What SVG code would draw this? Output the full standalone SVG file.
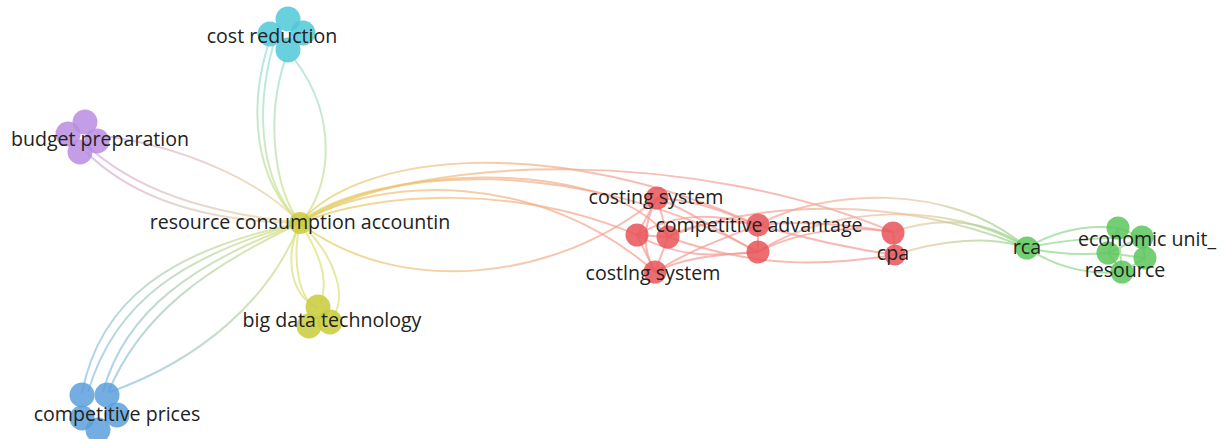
<svg xmlns="http://www.w3.org/2000/svg" width="1224" height="439" viewBox="0 0 1224 439">
<defs>
<linearGradient id="gCost" gradientUnits="userSpaceOnUse" x1="0" y1="40" x2="0" y2="223"><stop offset="0" stop-color="#8fdde6"/><stop offset="1" stop-color="#d6e07c"/></linearGradient>
<linearGradient id="gBud" gradientUnits="userSpaceOnUse" x1="90" y1="140" x2="300" y2="223"><stop offset="0" stop-color="#d6a8e2"/><stop offset="1" stop-color="#e6dc98"/></linearGradient>
<linearGradient id="gComp" gradientUnits="userSpaceOnUse" x1="90" y1="395" x2="300" y2="223"><stop offset="0" stop-color="#86bde8"/><stop offset="1" stop-color="#d8e07c"/></linearGradient>
<linearGradient id="gRed" gradientUnits="userSpaceOnUse" x1="300" y1="0" x2="640" y2="0"><stop offset="0" stop-color="#dcd25a"/><stop offset="0.3" stop-color="#f0c27a"/><stop offset="1" stop-color="#f4a094"/></linearGradient>
<linearGradient id="gRca" gradientUnits="userSpaceOnUse" x1="760" y1="0" x2="1027" y2="0"><stop offset="0" stop-color="#f4a094"/><stop offset="0.6" stop-color="#e6c8a0"/><stop offset="1" stop-color="#8ed68a"/></linearGradient>
<style>
.e{fill:none;stroke-width:2;stroke-opacity:0.7}
.ec{stroke:url(#gCost)}
.eb{stroke:url(#gBud)}
.ep{stroke:url(#gComp)}
.ey{stroke:#dcdf7a}
.er{stroke:url(#gRed)}
.erd{stroke:#f39b94}
.erc{stroke:url(#gRca)}
.eg{stroke:#8fd88a}
.n{stroke:none;fill-opacity:0.85}
.cy{fill:#4fc8d8}
.pu{fill:#b98ce0}
.ye{fill:#c9cb3a}
.bl{fill:#5b9fdc}
.re{fill:#e85458}
.gr{fill:#5cc55c}
text{font-family:"Open Sans","Liberation Sans",sans-serif;font-size:19.6px;fill:#222;text-anchor:middle}
</style>
</defs>
<g id="connectors">
<path class="e ec" d="M268,45 C248,110 255,180 300,223"/>
<path class="e ec" d="M273,46 C254,115 262,185 300,223"/>
<path class="e ec" d="M285,60 C265,120 275,190 300,223"/>
<path class="e ec" d="M295,60 C340,120 330,190 301,222"/>
<path class="e eb" d="M97,135 C180,145 260,180 300,223"/>
<path class="e eb" d="M92,150 C150,200 230,215 300,223"/>
<path class="e eb" d="M86,152 C140,205 220,222 300,223"/>
<path class="e ey" d="M300,223 C285,255 290,290 312,305"/>
<path class="e ey" d="M300,223 C292,260 298,300 318,308"/>
<path class="e ey" d="M300,223 C335,255 350,300 330,320"/>
<path class="e ey" d="M300,223 C318,250 330,280 320,303"/>
<path class="e ep" d="M82,393 C100,300 170,250 300,223"/>
<path class="e ep" d="M88,392 C115,300 185,255 300,223"/>
<path class="e ep" d="M103,392 C125,310 195,262 300,223"/>
<path class="e ep" d="M108,393 C140,315 205,268 300,223"/>
<path class="e ep" d="M110,392 C200,360 270,300 300,223"/>
<path class="e er" d="M300,223 C360,150 560,135 757,225"/>
<path class="e er" d="M300,223 C380,165 580,155 758,252"/>
<path class="e er" d="M300,223 C380,175 540,170 655,272"/>
<path class="e er" d="M300,223 C380,190 520,185 637,235"/>
<path class="e er" d="M300,223 C360,170 600,150 668,237"/>
<path class="e er" d="M300,223 C400,300 560,280 657,198"/>
<path class="e er" d="M300,223 C420,150 700,150 893,232"/>
<path class="e erd" d="M657,198 L637,235"/>
<path class="e erd" d="M657,198 L668,237"/>
<path class="e erd" d="M657,198 C640,230 645,255 655,272"/>
<path class="e erd" d="M637,235 L655,272"/>
<path class="e erd" d="M668,237 L655,272"/>
<path class="e erd" d="M637,235 L668,237"/>
<path class="e erd" d="M657,198 C700,200 730,215 758,225"/>
<path class="e erd" d="M657,198 C700,215 730,240 758,252"/>
<path class="e erd" d="M637,235 C680,260 720,255 758,252"/>
<path class="e erd" d="M668,237 C700,220 730,220 758,225"/>
<path class="e erd" d="M655,272 C690,250 720,240 758,225"/>
<path class="e erd" d="M655,272 C690,255 725,255 758,252"/>
<path class="e erd" d="M637,235 C680,210 720,215 758,225"/>
<path class="e erd" d="M758,225 L758,252"/>
<path class="e erd" d="M758,225 C800,220 850,225 893,232"/>
<path class="e erd" d="M758,252 C800,230 850,225 893,232"/>
<path class="e erd" d="M758,225 C810,240 860,250 895,255"/>
<path class="e erd" d="M668,237 C760,270 830,265 895,255"/>
<path class="e erd" d="M893,232 L895,255"/>
<path class="e erc" d="M758,225 C820,190 950,180 1027,248"/>
<path class="e erc" d="M758,252 C830,205 950,200 1027,248"/>
<path class="e erc" d="M893,232 C940,215 990,220 1027,248"/>
<path class="e erc" d="M895,255 C940,240 990,235 1027,248"/>
<path class="e erc" d="M668,237 C760,200 900,195 1027,248"/>
<path class="e eg" d="M1027,248 C1060,228 1090,225 1118,228"/>
<path class="e eg" d="M1027,248 C1060,240 1090,238 1142,237"/>
<path class="e eg" d="M1027,248 C1060,255 1085,255 1108,253"/>
<path class="e eg" d="M1027,248 C1060,270 1095,275 1122,272"/>
<path class="e eg" d="M1118,228 L1142,237 L1145,258 L1122,272 L1108,253 Z"/>
<path class="e eg" d="M1118,228 L1122,272 M1108,253 L1145,258 M1142,237 L1108,253"/>
</g>
<g id="node-cost-reduction">
<circle class="n cy" cx="288" cy="19" r="12.5"/>
<circle class="n cy" cx="270" cy="34" r="12.5"/>
<circle class="n cy" cx="303" cy="33" r="12.5"/>
<circle class="n cy" cx="288" cy="50" r="12.5"/>
<text x="272" y="43">cost reduction</text>
</g>
<g id="node-budget-preparation">
<circle class="n pu" cx="85" cy="122" r="12.5"/>
<circle class="n pu" cx="68" cy="134" r="12.5"/>
<circle class="n pu" cx="97" cy="141" r="12.5"/>
<circle class="n pu" cx="80" cy="152" r="12.5"/>
<text x="100" y="146">budget preparation</text>
</g>
<g id="node-resource-consumption">
<circle class="n ye" cx="300" cy="223" r="11"/>
<text x="300" y="229">resource consumption accountin</text>
</g>
<g id="node-big-data">
<circle class="n ye" cx="318" cy="307" r="12.5"/>
<circle class="n ye" cx="309" cy="326" r="12.5"/>
<circle class="n ye" cx="330" cy="322" r="12.5"/>
<text x="332" y="327">big data technology</text>
</g>
<g id="node-competitive-prices">
<circle class="n bl" cx="82" cy="395" r="12.5"/>
<circle class="n bl" cx="107" cy="395" r="12.5"/>
<circle class="n bl" cx="82" cy="418" r="12.5"/>
<circle class="n bl" cx="117" cy="415" r="12.5"/>
<circle class="n bl" cx="98" cy="430" r="12.5"/>
<text x="117" y="421">competitive prices</text>
</g>
<g id="node-costing-system">
<circle class="n re" cx="657" cy="198" r="11.5"/>
<circle class="n re" cx="637" cy="235" r="11.5"/>
<circle class="n re" cx="668" cy="237" r="11.5"/>
<text x="656" y="204">costing system</text>
</g>
<g id="node-costlng-system">
<circle class="n re" cx="655" cy="272" r="11.5"/>
<text x="653" y="280">costlng system</text>
</g>
<g id="node-competitive-advantage">
<circle class="n re" cx="758" cy="225" r="11.5"/>
<circle class="n re" cx="758" cy="252" r="11.5"/>
<text x="759" y="232">competitive advantage</text>
</g>
<g id="node-cpa">
<circle class="n re" cx="893" cy="233" r="11.5"/>
<circle class="n re" cx="895" cy="255" r="10.5"/>
<text x="893" y="260">cpa</text>
</g>
<g id="node-rca">
<circle class="n gr" cx="1027" cy="248" r="11.5"/>
<text x="1027" y="254">rca</text>
</g>
<g id="node-economic-unit">
<circle class="n gr" cx="1118" cy="228" r="11.5"/>
<circle class="n gr" cx="1142" cy="237" r="11.5"/>
<circle class="n gr" cx="1108" cy="253" r="11.5"/>
<circle class="n gr" cx="1145" cy="258" r="11.5"/>
<text x="1147" y="246">economic unit_</text>
</g>
<g id="node-resource">
<circle class="n gr" cx="1122" cy="272" r="11.5"/>
<text x="1125" y="277">resource</text>
</g>
</svg>
